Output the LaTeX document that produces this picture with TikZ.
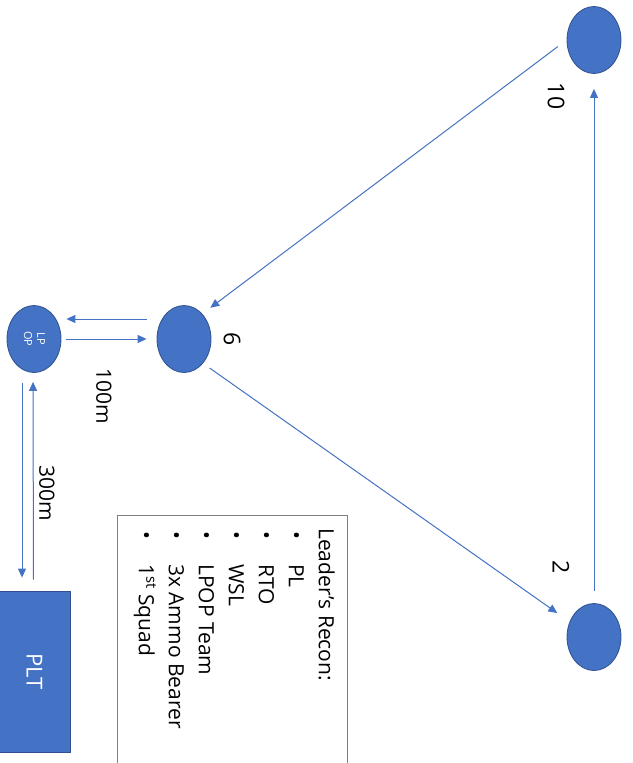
\documentclass[tikz,border=0pt]{standalone}
\usepackage{fontspec}
\setmainfont{Open Sans}
\usetikzlibrary{shapes.geometric,arrows.meta}
\begin{document}
\begin{tikzpicture}[x=1pt,y=-1pt,
  spot/.style={ellipse,draw=ffblued,line width=0.8pt,fill=ffblue,minimum width=54pt,minimum height=67pt,inner sep=0pt},
  mv/.style={draw=ffblue,line width=1pt,-{Triangle[length=9pt,width=8pt]}},
  lbl/.style={rotate=-90,inner sep=0pt,font=\fontsize{21}{25}\selectfont}]
\definecolor{ffblue}{HTML}{4472C4}
\definecolor{ffblued}{HTML}{2F528F}
\definecolor{ffgray}{HTML}{7F7F7F}
\useasboundingbox (0,0) rectangle (632,763);
\node[spot] (n10) at (594,40) {};
\node[spot] (n2) at (594,637) {};
\node[spot] (n6) at (184,339) {};
\node[spot,text=white,align=center,font=\fontsize{11}{17}\selectfont] (lpop) at (34,339) {\rotatebox{-90}{\begin{tabular}{@{}c@{}}LP\\[-4pt]OP\end{tabular}}};
\node[rectangle,draw=ffblued,line width=0.8pt,fill=ffblue,minimum width=71pt,minimum height=161pt,inner sep=0pt] (plt) at (34.5,671.5) {};
\node[lbl,text=white,font=\fontsize{22}{25}\selectfont] (plttxt) at (plt) {PLT};
\draw [mv,shorten <=11pt,shorten >=10pt] (n10.180) -- (n6.54);
\draw [mv,shorten <=8pt,shorten >=15pt] (n6.-52) -- (n2.148);
\draw [mv,shorten <=12pt,shorten >=15pt] (n2.north) -- (n10.south);
\draw [mv,shorten <=10pt,shorten >=5pt] ([yshift=20pt]n6.west) -- ([yshift=20pt]lpop.east);
\draw [mv,shorten <=5pt,shorten >=10pt] (lpop.east) -- (n6.west);
\draw [mv,shorten <=10pt,shorten >=13pt] ([xshift=-12pt]lpop.south) -- ([xshift=-12.5pt]plt.north);
\draw [mv,shorten <=11pt,shorten >=9pt] ([xshift=-1pt]plt.north) -- ([xshift=-1pt]lpop.south);
\node[lbl,font=\fontsize{23}{25}\selectfont] (t10) at (556,96) {10};
\node[lbl,font=\fontsize{23}{25}\selectfont] (t2) at (561,567) {2};
\node[lbl,font=\fontsize{23}{25}\selectfont] (t6) at (232,339) {6};
\node[lbl] (t100) at (104,396) {100m};
\node[lbl] (t300) at (47,493) {300m};
\draw [draw=ffgray,line width=1pt] (117,515) rectangle (347,775);
\node[lbl,anchor=north west,align=left,font=\fontsize{21}{30}\selectfont] (recon) at (335,528) {Leader’s Recon:\\
\makebox[36pt][l]{\,\textbullet}PL\\
\makebox[36pt][l]{\,\textbullet}RTO\\
\makebox[36pt][l]{\,\textbullet}WSL\\
\makebox[36pt][l]{\,\textbullet}LPOP Team\\
\makebox[36pt][l]{\,\textbullet}3x Ammo Bearer\\
\makebox[36pt][l]{\,\textbullet}1\textsuperscript{st} Squad};
\end{tikzpicture}
\end{document}
